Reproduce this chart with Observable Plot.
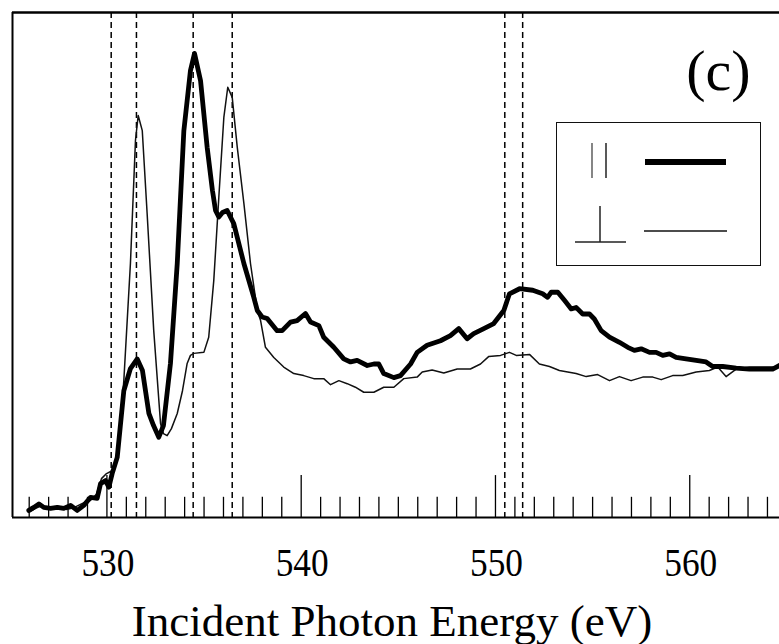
<!DOCTYPE html>
<html>
<head>
<meta charset="utf-8">
<script src="https://cdn.jsdelivr.net/npm/d3@7"></script>
<script src="https://cdn.jsdelivr.net/npm/@observablehq/plot@0.6"></script>
<style>
  html, body { margin: 0; padding: 0; background: #fff; }
  #wrap { position: relative; width: 779px; height: 644px; }
  #legend { position: absolute; left: 556px; top: 122px; width: 205px; height: 144px;
            box-sizing: border-box; border: 1.5px solid #111; background: #fff; }
</style>
</head>
<body>
<div id="wrap">
  <div id="chart"></div>
  <div id="legend">
    <svg width="202" height="141" style="display:block">
      <line x1="35" y1="20" x2="35" y2="55" stroke="#444" stroke-width="1.3"/>
      <line x1="49" y1="20" x2="49" y2="55" stroke="#222" stroke-width="1.5"/>
      <line x1="88" y1="39" x2="169" y2="39" stroke="#000" stroke-width="6"/>
      <line x1="43" y1="83" x2="43" y2="119" stroke="#222" stroke-width="1.5"/>
      <line x1="18" y1="119" x2="69" y2="119" stroke="#222" stroke-width="1.5"/>
      <line x1="87" y1="108" x2="170" y2="108" stroke="#111" stroke-width="1.6"/>
    </svg>
  </div>
</div>
<script>
// Parallel polarization (thick line)
const energyPar = [525.98,526.24,526.50,526.75,527.10,527.44,527.78,528.13,528.47,528.81,529.16,529.50,529.67,529.93,530.10,530.27,530.53,530.87,531.21,531.56,531.83,532.16,532.40,532.67,532.91,533.27,533.62,533.96,534.30,534.51,534.82,535.16,535.43,535.59,535.76,535.95,536.19,536.53,537.05,537.56,537.74,537.99,538.25,538.76,539.02,539.45,539.79,540.22,540.48,540.91,541.16,541.68,542.19,542.54,542.88,543.40,543.74,543.99,544.25,544.77,545.11,545.63,545.97,546.48,547.17,547.68,548.11,548.54,548.88,549.40,549.91,550.43,550.72,551.24,551.92,552.43,552.68,552.87,553.21,553.55,553.90,554.15,554.49,554.84,555.09,555.44,555.87,556.38,556.81,557.15,557.50,557.93,558.27,558.61,558.96,559.30,559.81,560.33,560.84,561.18,561.70,562.39,563.07,563.76,564.27,564.62];
const intensityPar = [1.4,2.0,2.7,2.0,1.8,2.0,1.8,2.4,1.4,2.4,4.0,3.8,6.7,7.3,6.0,8.7,11.9,25.1,29.5,31.4,29.1,20.6,18.2,15.9,18.2,30.5,50.3,76.6,88.5,91.9,86.5,73.3,64.8,60.8,59.5,60.4,60.8,58.2,50.3,43.6,41.0,39.7,39.4,37.0,37.0,38.7,39.0,40.4,38.7,38.0,35.7,33.7,31.4,30.8,31.1,30.1,30.4,30.4,28.5,27.7,28.1,30.4,32.7,34.1,35.0,36.0,37.4,35.4,36.4,37.4,38.4,41.0,44.3,45.3,45.0,44.3,43.6,44.6,44.6,43.0,41.3,41.6,40.3,40.3,39.3,37.0,35.7,34.7,33.7,33.1,33.4,32.7,32.7,32.1,32.4,31.7,31.4,31.1,30.8,29.9,29.9,29.6,29.4,29.4,29.4,30.1];

// Perpendicular polarization (thin line)
const energyPerp = [525.98,526.33,526.69,527.10,527.51,527.92,528.33,528.74,529.16,529.46,529.72,529.98,530.29,530.60,530.87,531.21,531.47,531.61,531.82,532.07,532.41,532.76,532.91,533.10,533.32,533.62,533.89,534.13,534.30,534.47,534.99,535.24,535.50,535.76,536.02,536.22,536.45,536.71,537.05,537.39,537.74,537.91,538.16,538.59,539.10,539.62,540.13,540.65,541.16,541.51,541.94,542.37,542.79,543.22,543.74,544.25,544.77,545.28,545.97,546.23,546.74,547.34,548.03,548.71,549.23,549.66,550.26,550.72,551.07,551.75,552.26,552.78,553.29,554.15,554.67,555.26,555.87,556.38,556.98,557.58,558.10,558.53,559.12,559.64,560.33,561.01,561.44,561.87,562.39,563.07,563.76,564.62];
const intensityPerp = [1.0,1.8,2.4,1.6,2.2,1.6,2.0,2.8,3.4,4.6,7.7,8.7,9.3,13.3,27.1,50.3,74.7,79.6,76.6,60.2,37.0,18.6,16.6,16.2,17.6,20.6,25.1,30.5,32.1,32.5,32.7,35.7,46.9,63.4,79.3,85.2,83.2,73.3,62.2,50.3,41.0,39.0,33.7,31.7,29.8,28.5,28.1,27.5,27.5,26.3,27.1,26.5,25.8,24.8,24.8,25.8,25.8,27.5,27.8,28.8,29.2,28.6,29.4,29.4,30.4,31.9,32.1,32.7,32.1,32.3,30.4,29.9,29.1,28.5,27.9,28.3,27.1,27.9,27.1,27.8,27.8,27.3,28.1,28.1,28.8,29.1,29.8,27.9,29.4,29.8,29.8,29.8];

const dashedEnergies = [530.22, 531.52, 534.44, 536.45, 550.48, 551.40];
const minorTicks = [526,527,528,529,531,532,533,534,535,536,537,538,539,541,542,543,544,545,546,547,548,549,551,552,553,554,555,556,557,558,559,561,562,563,564];
const majorTicks = [530, 540, 550, 560];
const xLabel = "Incident Photon Energy (eV)";
const panelLabel = "(c)";

const xDomain = [525.14, 564.62];
const yDomain = [0, 100];

const par = energyPar.map((e, i) => ({e, v: intensityPar[i]}));
const perp = energyPerp.map((e, i) => ({e, v: intensityPerp[i]}));

const serif = "'Liberation Serif', 'Times New Roman', serif";

const chart = Plot.plot({
  width: 779,
  height: 644,
  marginTop: 12,
  marginLeft: 12,
  marginRight: 0,
  marginBottom: 127,
  x: {domain: xDomain, axis: null},
  y: {domain: yDomain, axis: null},
  style: {background: "#fff", fontFamily: serif, color: "#000"},
  marks: [
    Plot.ruleX(minorTicks, {x: d => d, y1: 0, y2: 4, stroke: "#000", strokeWidth: 1.3}),
    Plot.ruleX(majorTicks, {x: d => d, y1: 0, y2: 8.3, stroke: "#000", strokeWidth: 1.3}),
    Plot.ruleX(dashedEnergies, {x: d => d, stroke: "#000", strokeWidth: 1.5, strokeDasharray: "6,4"}),
    Plot.line(perp, {x: "e", y: "v", stroke: "#111", strokeWidth: 1.5, curve: "linear"}),
    Plot.line(par, {x: "e", y: "v", stroke: "#000", strokeWidth: 4.8, strokeLinejoin: "round", curve: "linear"}),
    Plot.ruleY([yDomain[0]], {stroke: "#000", strokeWidth: 2}),
    Plot.ruleY([yDomain[1]], {stroke: "#000", strokeWidth: 2.5}),
    Plot.ruleX([xDomain[0]], {stroke: "#000", strokeWidth: 2}),
    Plot.text(majorTicks, {x: d => d, text: d => String(d), frameAnchor: "bottom", lineAnchor: "bottom", dy: 58, dx: 1, fontSize: 41, fontFamily: serif, fill: "#000"}),
    Plot.text([xLabel], {text: d => d, frameAnchor: "bottom", lineAnchor: "bottom", dy: 118, dx: -4, fontSize: 45, fontFamily: serif, fill: "#000"}),
    Plot.text([panelLabel], {text: d => d, frameAnchor: "top-right", textAnchor: "end", lineAnchor: "bottom", dx: -29, dy: 77, fontSize: 58, fontFamily: serif, fill: "#000"})
  ]
});
// Condense the tick-label glyphs horizontally, like the scanned figure's typeface
const textGroups = chart.querySelectorAll('g[aria-label="text"]');
if (textGroups.length) {
  textGroups[0].querySelectorAll("text").forEach(t => {
    t.setAttribute("textLength", "53");
    t.setAttribute("lengthAdjust", "spacingAndGlyphs");
  });
}
document.getElementById("chart").appendChild(chart);
</script>
</body>
</html>
